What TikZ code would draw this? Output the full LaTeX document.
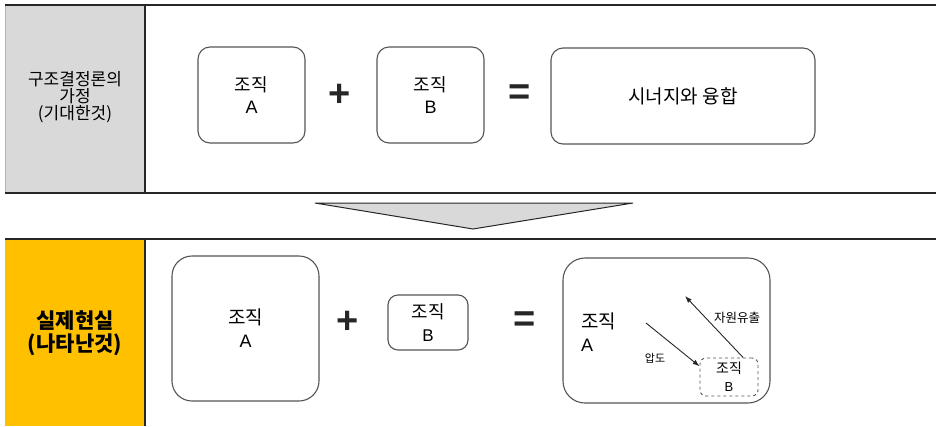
\documentclass[tikz,border=0pt]{standalone}
\usepackage{fontspec}
\setmainfont{Liberation Sans}
\newfontfamily\kr{Noto Sans CJK KR}
\usetikzlibrary{arrows.meta}
\definecolor{hdgray}{HTML}{D9D9D9}
\definecolor{hdyellow}{HTML}{FFC000}
\definecolor{edge}{HTML}{555555}
\definecolor{rulec}{HTML}{262626}
\newcommand{\fsz}[1]{\fontsize{#1}{#1}\selectfont}
\begin{document}
\begin{tikzpicture}[x=1pt,y=-1pt,
  rbox/.style={draw=edge,line width=1.1pt,fill=white,align=center,inner sep=0pt,font=\fsz{18}},
  opsign/.style={font=\fsz{38}\bfseries,text=rulec,inner sep=0pt},
  ruleline/.style={draw=rulec,line width=1.6pt},
  sidelabel/.style={align=center,text=black,inner sep=0pt},
  tip/.style={-{Latex[length=7pt,width=5pt]},draw=rulec,line width=0.9pt}
]
\useasboundingbox (0,0) rectangle (936,426);

% ---------- top band ----------
\fill[hdgray] (5,5) rectangle (145,193);
\draw[draw=gray!60,line width=0.6pt] (5,5) -- (5,193);
\draw[ruleline] (5,5) -- (936,5);
\draw[ruleline] (5,193) -- (936,193);
\draw[ruleline] (145,5) -- (145,193);
\node[sidelabel,font=\kr\fontsize{17}{17}\selectfont] (hyp) at (75,97)
  {구조결정론의\\가정\\(기대한것)};

\node[rbox,rounded corners=12pt,minimum width=107pt,minimum height=96pt] (ta) at (251.5,95)
  {{\kr 조직}\\[4pt]A};
\node[opsign] (tplus) at (340,95) {+};
\node[rbox,rounded corners=12pt,minimum width=107pt,minimum height=96pt] (tb) at (430.5,95)
  {{\kr 조직}\\[4pt]B};
\node[opsign] (teq) at (520,95) {=};
\node[rbox,rounded corners=12pt,minimum width=264pt,minimum height=96pt,font=\kr\fsz{19}] (ts) at (683,96)
  {시너지와 융합};

% ---------- arrow between bands ----------
\draw[draw=rulec,line width=1pt,fill=hdgray] (315,203) -- (633,203) -- (473,229) -- cycle;

% ---------- bottom band ----------
\fill[hdyellow] (5,239) rectangle (145,426);
\draw[ruleline] (5,239) -- (936,239);
\draw[ruleline] (145,239) -- (145,426);
\node[sidelabel,font=\kr\bfseries\fontsize{21}{23}\selectfont] (real) at (75,333)
  {실제현실\\(나타난것)};

\node[rbox,rounded corners=20pt,minimum width=147pt,minimum height=145pt] (ba) at (245.5,328.5)
  {{\kr\fsz{19}조직}\\[5pt]A};
\node[opsign] (bplus) at (348,322) {+};
\node[rbox,rounded corners=10pt,minimum width=80pt,minimum height=55pt] (bb) at (428,322.5)
  {{\kr 조직}\\[5pt]{\fsz{17}B}};
\node[opsign] (beq) at (525,322) {=};
\node[rbox,rounded corners=22pt,minimum width=207pt,minimum height=145pt] (br) at (666.5,330.5) {};

\node[align=left,inner sep=0pt,anchor=west,font=\fsz{18}] (ra) at (581,332.5)
  {{\kr\fsz{19}조직}\\[5pt]A};
\node[rbox,dashed,line width=0.9pt,rounded corners=6pt,minimum width=58pt,minimum height=38pt,font=\fsz{14}] (db) at (729,377)
  {{\kr 조직}\\[4pt]{\fsz{13}B}};

\coordinate (pstart) at (646,323);
\coordinate (lend) at (685,296);
\draw[tip] (pstart) -- (db.160);
\draw[tip] (db.54) -- (lend);
\node[font=\kr\fsz{11},inner sep=0pt] (lab1) at (655,358) {압도};
\node[font=\kr\fsz{12.5},inner sep=0pt] (lab2) at (737,318) {자원유출};
\end{tikzpicture}
\end{document}
